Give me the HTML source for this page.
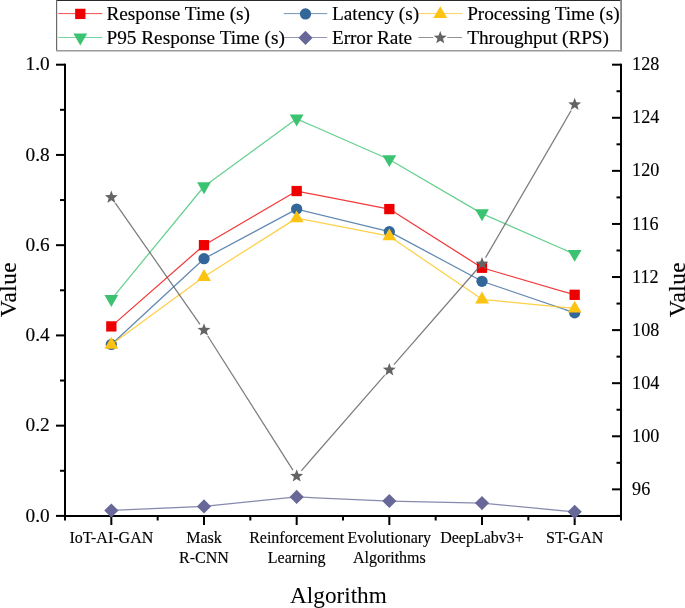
<!DOCTYPE html>
<html><head><meta charset="utf-8"><style>
html,body{margin:0;padding:0;background:#fff;}
body{width:685px;height:608px;overflow:hidden;}
svg{display:block;will-change:transform;}
text{font-family:"Liberation Serif",serif;fill:#000;stroke:#000;stroke-width:0.15px;}
</style></head><body>
<svg width="685" height="608" viewBox="0 0 685 608">
<rect x="64" y="63.7" width="2" height="453" fill="#000"/><rect x="620" y="63.7" width="2" height="453" fill="#000"/><rect x="64" y="515" width="558" height="2" fill="#000"/><rect x="56" y="514.9" width="9" height="2" fill="#000"/><rect x="60" y="469.78" width="5" height="2" fill="#000"/><rect x="56" y="424.66" width="9" height="2" fill="#000"/><rect x="60" y="379.54" width="5" height="2" fill="#000"/><rect x="56" y="334.42" width="9" height="2" fill="#000"/><rect x="60" y="289.3" width="5" height="2" fill="#000"/><rect x="56" y="244.18" width="9" height="2" fill="#000"/><rect x="60" y="199.06" width="5" height="2" fill="#000"/><rect x="56" y="153.94" width="9" height="2" fill="#000"/><rect x="60" y="108.82" width="5" height="2" fill="#000"/><rect x="56" y="63.7" width="9" height="2" fill="#000"/><rect x="616.5" y="514.9" width="4.5" height="2" fill="#000"/><rect x="612" y="488.36" width="9" height="2" fill="#000"/><rect x="616.5" y="461.82" width="4.5" height="2" fill="#000"/><rect x="612" y="435.28" width="9" height="2" fill="#000"/><rect x="616.5" y="408.74" width="4.5" height="2" fill="#000"/><rect x="612" y="382.19" width="9" height="2" fill="#000"/><rect x="616.5" y="355.65" width="4.5" height="2" fill="#000"/><rect x="612" y="329.11" width="9" height="2" fill="#000"/><rect x="616.5" y="302.57" width="4.5" height="2" fill="#000"/><rect x="612" y="276.03" width="9" height="2" fill="#000"/><rect x="616.5" y="249.49" width="4.5" height="2" fill="#000"/><rect x="612" y="222.95" width="9" height="2" fill="#000"/><rect x="616.5" y="196.41" width="4.5" height="2" fill="#000"/><rect x="612" y="169.86" width="9" height="2" fill="#000"/><rect x="616.5" y="143.32" width="4.5" height="2" fill="#000"/><rect x="612" y="116.78" width="9" height="2" fill="#000"/><rect x="616.5" y="90.24" width="4.5" height="2" fill="#000"/><rect x="612" y="63.7" width="9" height="2" fill="#000"/><rect x="110.33" y="516" width="2" height="9" fill="#000"/><rect x="203" y="516" width="2" height="9" fill="#000"/><rect x="295.67" y="516" width="2" height="9" fill="#000"/><rect x="388.33" y="516" width="2" height="9" fill="#000"/><rect x="481" y="516" width="2" height="9" fill="#000"/><rect x="573.67" y="516" width="2" height="9" fill="#000"/><rect x="64" y="516" width="2" height="4.5" fill="#000"/><rect x="156.67" y="516" width="2" height="4.5" fill="#000"/><rect x="249.33" y="516" width="2" height="4.5" fill="#000"/><rect x="342" y="516" width="2" height="4.5" fill="#000"/><rect x="434.67" y="516" width="2" height="4.5" fill="#000"/><rect x="527.33" y="516" width="2" height="4.5" fill="#000"/><rect x="620" y="516" width="2" height="4.5" fill="#000"/>
<text x="49.6" y="521.5" text-anchor="end" font-size="19.3">0.0</text><text x="49.6" y="431.26" text-anchor="end" font-size="19.3">0.2</text><text x="49.6" y="341.02" text-anchor="end" font-size="19.3">0.4</text><text x="49.6" y="250.78" text-anchor="end" font-size="19.3">0.6</text><text x="49.6" y="160.54" text-anchor="end" font-size="19.3">0.8</text><text x="49.6" y="70.3" text-anchor="end" font-size="19.3">1.0</text><text transform="translate(633.3 0) scale(0.94 1)" x="-1.3" y="494.96" font-size="19.3">96</text><text transform="translate(633.3 0) scale(0.94 1)" x="-1.3" y="441.88" font-size="19.3">100</text><text transform="translate(633.3 0) scale(0.94 1)" x="-1.3" y="388.79" font-size="19.3">104</text><text transform="translate(633.3 0) scale(0.94 1)" x="-1.3" y="335.71" font-size="19.3">108</text><text transform="translate(633.3 0) scale(0.94 1)" x="-1.3" y="282.63" font-size="19.3">112</text><text transform="translate(633.3 0) scale(0.94 1)" x="-1.3" y="229.55" font-size="19.3">116</text><text transform="translate(633.3 0) scale(0.94 1)" x="-1.3" y="176.46" font-size="19.3">120</text><text transform="translate(633.3 0) scale(0.94 1)" x="-1.3" y="123.38" font-size="19.3">124</text><text transform="translate(633.3 0) scale(0.94 1)" x="-1.3" y="70.3" font-size="19.3">128</text><text x="111.33" y="543" text-anchor="middle" font-size="16">IoT-AI-GAN</text><text x="204" y="543" text-anchor="middle" font-size="16">Mask</text><text x="204" y="562.7" text-anchor="middle" font-size="16">R-CNN</text><text x="296.67" y="543" text-anchor="middle" font-size="16">Reinforcement</text><text x="296.67" y="562.7" text-anchor="middle" font-size="16">Learning</text><text x="389.33" y="543" text-anchor="middle" font-size="16">Evolutionary</text><text x="389.33" y="562.7" text-anchor="middle" font-size="16">Algorithms</text><text x="482" y="543" text-anchor="middle" font-size="16">DeepLabv3+</text><text x="574.67" y="543" text-anchor="middle" font-size="16">ST-GAN</text>
<text x="290.1" y="602.6" font-size="23.2" style="stroke-width:0.05px">Algorithm</text>
<text transform="translate(16.2 289.6) rotate(-90)" text-anchor="middle" font-size="23.5" letter-spacing="0.4">Value</text>
<text transform="translate(684.8 289.6) rotate(-90)" text-anchor="middle" font-size="23.5" letter-spacing="0.4">Value</text>
<polyline points="111.33,326.4 204,245.18 296.67,191.04 389.33,209.08 482,267.74 574.67,294.81" fill="none" stroke="#ee0000" stroke-width="1.25" stroke-opacity="0.78" stroke-linejoin="round"/><rect x="106.18" y="321.25" width="10.3" height="10.3" fill="#ee0000"/><rect x="198.85" y="240.03" width="10.3" height="10.3" fill="#ee0000"/><rect x="291.52" y="185.89" width="10.3" height="10.3" fill="#ee0000"/><rect x="384.18" y="203.93" width="10.3" height="10.3" fill="#ee0000"/><rect x="476.85" y="262.59" width="10.3" height="10.3" fill="#ee0000"/><rect x="569.52" y="289.66" width="10.3" height="10.3" fill="#ee0000"/><polyline points="111.33,344.44 204,258.72 296.67,209.08 389.33,231.64 482,281.28 574.67,312.86" fill="none" stroke="#33679a" stroke-width="1.25" stroke-opacity="0.78" stroke-linejoin="round"/><circle cx="111.33" cy="344.44" r="5.65" fill="#33679a"/><circle cx="204" cy="258.72" r="5.65" fill="#33679a"/><circle cx="296.67" cy="209.08" r="5.65" fill="#33679a"/><circle cx="389.33" cy="231.64" r="5.65" fill="#33679a"/><circle cx="482" cy="281.28" r="5.65" fill="#33679a"/><circle cx="574.67" cy="312.86" r="5.65" fill="#33679a"/><polyline points="111.33,344.44 204,276.76 296.67,218.11 389.33,236.16 482,299.32 574.67,308.35" fill="none" stroke="#fdc313" stroke-width="1.25" stroke-opacity="0.78" stroke-linejoin="round"/><path d="M111.33 336.74L118.23 348.64L104.43 348.64Z" fill="#fdc313"/><path d="M204 269.06L210.9 280.96L197.1 280.96Z" fill="#fdc313"/><path d="M296.67 210.41L303.57 222.31L289.77 222.31Z" fill="#fdc313"/><path d="M389.33 228.46L396.23 240.36L382.43 240.36Z" fill="#fdc313"/><path d="M482 291.62L488.9 303.52L475.1 303.52Z" fill="#fdc313"/><path d="M574.67 300.65L581.57 312.55L567.77 312.55Z" fill="#fdc313"/><polyline points="111.33,299.32 204,186.52 296.67,118.84 389.33,159.45 482,213.6 574.67,254.2" fill="none" stroke="#3bc371" stroke-width="1.25" stroke-opacity="0.78" stroke-linejoin="round"/><path d="M104.43 295.07L118.23 295.07L111.33 306.97Z" fill="#3bc371"/><path d="M197.1 182.27L210.9 182.27L204 194.17Z" fill="#3bc371"/><path d="M289.77 114.59L303.57 114.59L296.67 126.49Z" fill="#3bc371"/><path d="M382.43 155.2L396.23 155.2L389.33 167.1Z" fill="#3bc371"/><path d="M475.1 209.35L488.9 209.35L482 221.25Z" fill="#3bc371"/><path d="M567.77 249.95L581.57 249.95L574.67 261.85Z" fill="#3bc371"/><polyline points="111.33,510.49 204,506.42 296.67,496.95 389.33,501.01 482,503.04 574.67,511.84" fill="none" stroke="#676898" stroke-width="1.25" stroke-opacity="0.78" stroke-linejoin="round"/><path d="M111.33 503.39L118.43 510.49L111.33 517.59L104.23 510.49Z" fill="#676898"/><path d="M204 499.32L211.1 506.42L204 513.52L196.9 506.42Z" fill="#676898"/><path d="M296.67 489.85L303.77 496.95L296.67 504.05L289.57 496.95Z" fill="#676898"/><path d="M389.33 493.91L396.43 501.01L389.33 508.11L382.23 501.01Z" fill="#676898"/><path d="M482 495.94L489.1 503.04L482 510.14L474.9 503.04Z" fill="#676898"/><path d="M574.67 504.74L581.77 511.84L574.67 518.94L567.57 511.84Z" fill="#676898"/><line x1="115.34" y1="203.15" x2="199.99" y2="324.37" stroke="#646464" stroke-width="1.25" stroke-opacity="0.85"/><line x1="207.75" y1="336.02" x2="292.92" y2="470.18" stroke="#646464" stroke-width="1.25" stroke-opacity="0.85"/><line x1="301.27" y1="470.81" x2="384.73" y2="375.2" stroke="#646464" stroke-width="1.25" stroke-opacity="0.85"/><line x1="393.94" y1="364.65" x2="477.4" y2="269.03" stroke="#646464" stroke-width="1.25" stroke-opacity="0.85"/><line x1="485.52" y1="257.71" x2="571.15" y2="110.56" stroke="#646464" stroke-width="1.25" stroke-opacity="0.85"/><path d="M111.33 190.61L113.01 195.1L117.8 195.3L114.05 198.29L115.33 202.91L111.33 200.26L107.34 202.91L108.62 198.29L104.87 195.3L109.65 195.1Z" fill="#646464"/><path d="M204 323.31L205.68 327.8L210.47 328.01L206.72 330.99L208 335.61L204 332.97L200 335.61L201.28 330.99L197.53 328.01L202.32 327.8Z" fill="#646464"/><path d="M296.67 469.29L298.35 473.78L303.13 473.99L299.38 476.97L300.66 481.59L296.67 478.94L292.67 481.59L293.95 476.97L290.2 473.99L294.99 473.78Z" fill="#646464"/><path d="M389.33 363.12L391.01 367.61L395.8 367.82L392.05 370.81L393.33 375.42L389.33 372.78L385.34 375.42L386.62 370.81L382.87 367.82L387.65 367.61Z" fill="#646464"/><path d="M482 256.96L483.68 261.45L488.47 261.66L484.72 264.64L486 269.26L482 266.61L478 269.26L479.28 264.64L475.53 261.66L480.32 261.45Z" fill="#646464"/><path d="M574.67 97.71L576.35 102.2L581.13 102.41L577.38 105.39L578.66 110.01L574.67 107.37L570.67 110.01L571.95 105.39L568.2 102.41L572.99 102.2Z" fill="#646464"/>
<rect x="56" y="0" width="566" height="51.6" fill="#fff"/><rect x="56" y="0" width="566" height="1" fill="#2a2a2a"/><rect x="56" y="0" width="1.2" height="51" fill="#6a6a6a"/><rect x="620.2" y="0" width="1.8" height="51.4" fill="#858585"/><rect x="56" y="50" width="566" height="1.5" fill="#9a9a9a"/><line x1="58.3" y1="13.6" x2="102.3" y2="13.6" stroke="#ee0000" stroke-width="0.7"/><rect x="75.15" y="8.75" width="10.3" height="10.3" fill="#ee0000"/><text x="106.44" y="20" font-size="19.3" letter-spacing="0">Response Time (s)</text><line x1="283.8" y1="13.6" x2="327.2" y2="13.6" stroke="#33679a" stroke-width="0.7"/><circle cx="305.5" cy="13.9" r="5.65" fill="#33679a"/><text x="331.94" y="20" font-size="19.3" letter-spacing="0">Latency (s)</text><line x1="418.4" y1="13.6" x2="462.1" y2="13.6" stroke="#fdc313" stroke-width="0.7"/><path d="M440.25 6.2L447.15 18.1L433.35 18.1Z" fill="#fdc313"/><text x="467.14" y="20" font-size="19.3" letter-spacing="-0.04">Processing Time (s)</text><line x1="58.3" y1="37.5" x2="102.3" y2="37.5" stroke="#3bc371" stroke-width="0.7"/><path d="M73.4 33.55L87.2 33.55L80.3 45.45Z" fill="#3bc371"/><text x="106.44" y="43.8" font-size="19.3" letter-spacing="0">P95 Response Time (s)</text><line x1="283.8" y1="37.5" x2="327.2" y2="37.5" stroke="#676898" stroke-width="0.7"/><path d="M305.5 30.7L312.6 37.8L305.5 44.9L298.4 37.8Z" fill="#676898"/><text x="331.94" y="43.8" font-size="19.3" letter-spacing="-0.08">Error Rate</text><line x1="418.4" y1="37.5" x2="433.25" y2="37.5" stroke="#646464" stroke-width="0.7"/><line x1="447.25" y1="37.5" x2="462.1" y2="37.5" stroke="#646464" stroke-width="0.7"/><path d="M440.25 31L441.93 35.49L446.72 35.7L442.97 38.68L444.25 43.3L440.25 40.66L436.25 43.3L437.53 38.68L433.78 35.7L438.57 35.49Z" fill="#646464"/><text x="467.35" y="43.8" font-size="19.3" letter-spacing="-0.1">Throughput (RPS)</text>
</svg>
</body></html>
